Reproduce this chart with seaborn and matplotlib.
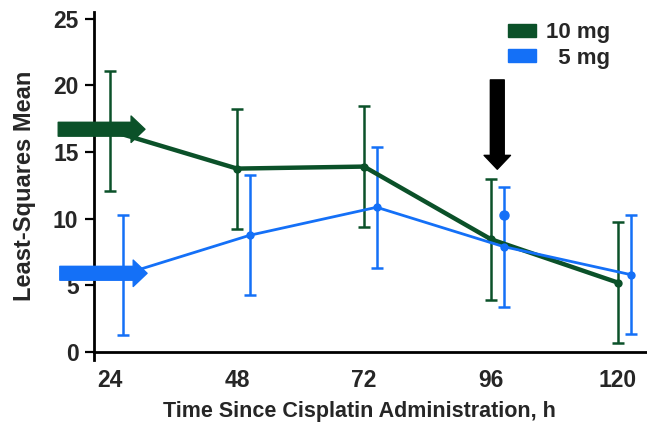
import pandas as pd
import matplotlib
matplotlib.use("Agg")
import matplotlib.pyplot as plt
import seaborn as sns
from matplotlib.patches import Patch

# === Data ===
hours = [24, 48, 72, 96, 120]
mean_10mg = [16.6, 13.75, 13.9, 8.45, 5.2]
se_10mg = [4.5, 4.5, 4.55, 4.55, 4.55]
mean_5mg = [5.8, 8.75, 10.85, 7.9, 5.8]
se_5mg = [4.5, 4.5, 4.55, 4.5, 4.45]
stray_5mg_96 = 10.25  # marker drawn off the line at 96 h in the original
dose_labels = ["10 mg", "  5 mg"]
offset_5mg = 2.4  # small horizontal dodge of the 5 mg series

green = "#0b5129"
blue = "#1470f7"

df = pd.DataFrame({
    "hour": hours + [h + offset_5mg for h in hours],
    "mean": mean_10mg + mean_5mg,
    "dose": ["10 mg"] * len(hours) + ["5 mg"] * len(hours),
})

# === Plot ===
sns.set_style("white")
plt.rcParams["font.family"] = ["Liberation Sans", "DejaVu Sans"]
plt.rcParams["font.weight"] = "bold"

fig = plt.figure(figsize=(6.47, 4.24), dpi=100)
ax = fig.add_axes([0.146, 0.151, 0.854, 0.821])

# error bars
ax.errorbar(hours, mean_10mg, yerr=se_10mg, fmt="none", ecolor=green,
            elinewidth=1.8, capsize=4.5, capthick=1.8, zorder=2)
ax.errorbar([h + offset_5mg for h in hours], mean_5mg, yerr=se_5mg, fmt="none",
            ecolor=blue, elinewidth=1.8, capsize=4.5, capthick=1.8, zorder=2)

sns.lineplot(data=df[df["dose"] == "10 mg"], x="hour", y="mean", color=green,
             linewidth=3.2, marker="o", markersize=6, markeredgewidth=0,
             ax=ax, zorder=3, legend=False)
sns.lineplot(data=df[df["dose"] == "5 mg"], x="hour", y="mean", color=blue,
             linewidth=2.0, marker="o", markersize=6, markeredgewidth=0,
             ax=ax, zorder=4, legend=False)
ax.plot([96 + offset_5mg], [stray_5mg_96], "o", color=blue, markersize=6.5, zorder=4)

# === Arrows ===
def block_arrow(x0, y0, x1, y1, color):
    ax.annotate("", xy=(x1, y1), xytext=(x0, y0), annotation_clip=False,
                arrowprops=dict(arrowstyle="simple,head_length=1.0,head_width=1.9,tail_width=1.0",
                                mutation_scale=10, color=color, shrinkA=0, shrinkB=0,
                                clip_on=False), zorder=5)

block_arrow(14.2, 16.7, 30.6, 16.7, green)
block_arrow(14.5, 5.9, 31.0, 5.9, blue)
block_arrow(97.2, 20.4, 97.2, 13.7, "black")

# === Axes styling ===
ax.set_xlim(21.05, 125.5)
ax.set_ylim(-0.6, 25.5)
ax.spines["bottom"].set_position(("data", 0))
ax.spines["top"].set_visible(False)
ax.spines["right"].set_visible(False)
for s in ["left", "bottom"]:
    ax.spines[s].set_linewidth(2.0)
    ax.spines[s].set_color("black")

ax.set_xticks(hours)
ax.set_yticks([0, 5, 10, 15, 20, 25])
ax.tick_params(axis="x", length=0, pad=12, labelsize=16.5)
ax.tick_params(axis="y", direction="out", length=6.5, width=1.6, pad=5,
               labelsize=16.5, left=True, color="black")
for lab in ax.get_xticklabels() + ax.get_yticklabels():
    lab.set_fontweight("bold")

ax.set_xlabel("Time Since Cisplatin Administration, h", fontsize=15.5, fontweight="bold")
ax.set_ylabel("Least-Squares Mean", fontsize=17, fontweight="bold")
ax.xaxis.set_label_coords(0.48, -0.118)
ax.yaxis.set_label_coords(-0.106, 0.5)

# === Legend ===
handles = [Patch(facecolor=green, edgecolor=green), Patch(facecolor=blue, edgecolor=blue)]
fig.legend(handles, dose_labels, loc="upper right", bbox_to_anchor=(0.974, 0.995),
           frameon=False, prop={"weight": "bold", "size": 16},
           handlelength=1.25, handleheight=0.55, handletextpad=0.45, labelspacing=0.2)

plt.savefig("out.png", dpi=100)
plt.close()
